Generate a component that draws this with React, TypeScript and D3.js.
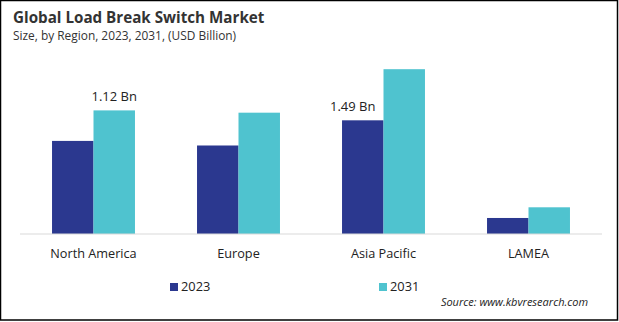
import React from "react";
import * as d3 from "d3";

const categories = ["North America", "Europe", "Asia Pacific", "LAMEA"];
const seriesNames = ["2023", "2031"];
const values2023 = [1.22, 1.16, 1.49, 0.21];
const values2031 = [1.62, 1.59, 2.16, 0.35];
const colors = ["#2B388F", "#4FC3CF"];
const annotations = [
  { cat: "North America", series: 1, text: "1.12 Bn", dx: 0 },
  { cat: "Asia Pacific", series: 0, text: "1.49 Bn", dx: -10 },
];

const W = 619;
const H = 322;
const FONT = "'Open Sans', 'Noto Sans', sans-serif";

export default function App() {
  const x = d3
    .scaleBand<string>()
    .domain(categories)
    .range([21, 601])
    .paddingInner(0.428)
    .paddingOuter(0.214);
  const xs = d3.scaleBand<string>().domain(seriesNames).range([0, x.bandwidth()]);
  const y = d3.scaleLinear().domain([0, 2.5]).range([234, 234 - 76.3 * 2.5]);
  const series = [values2023, values2031];

  return (
    <div style={{ position: "fixed", left: 0, top: 0 }}>
      <svg width={W} height={H} style={{ display: "block", fontFamily: FONT }}>
        <rect x={0} y={0} width={W} height={H} fill="#fff" />
        <rect x={0.5} y={0.5} width={617} height={319.5} fill="none" stroke="#000" strokeWidth={1.5} />
        <text x={13} y={23} fontSize={15.2} fontWeight={700} fill="#333">
          Global Load Break Switch Market
        </text>
        <text x={13} y={40} fontSize={11.9} fill="#333">
          Size, by Region, 2023, 2031, (USD Billion)
        </text>
        {categories.map((c, i) =>
          series.map((vals, s) => (
            <rect
              key={c + s}
              x={(x(c) as number) + (xs(seriesNames[s]) as number)}
              y={y(vals[i])}
              width={xs.bandwidth()}
              height={y(0) - y(vals[i])}
              fill={colors[s]}
            />
          ))
        )}
        <line x1={20} x2={602} y1={234} y2={234} stroke="#d9d9d9" strokeWidth={1} />
        {categories.map((c) => (
          <text
            key={c}
            x={(x(c) as number) + x.bandwidth() / 2}
            y={258}
            fontSize={12.7}
            textAnchor="middle"
            fill="#222"
          >
            {c}
          </text>
        ))}
        {annotations.map((a) => {
          const i = categories.indexOf(a.cat);
          const v = series[a.series][i];
          const cx = (x(a.cat) as number) + (xs(seriesNames[a.series]) as number) + xs.bandwidth() / 2 + a.dx;
          return (
            <text key={a.text} x={cx} y={y(v) - 9.5} fontSize={13} textAnchor="middle" fill="#222">
              {a.text}
            </text>
          );
        })}
        {seriesNames.map((n, s) => {
          const lx = [170, 379][s];
          return (
            <g key={n}>
              <rect x={lx} y={283} width={8} height={8} fill={colors[s]} />
              <text x={lx + 11} y={291} fontSize={12.8} fill="#222">
                {n}
              </text>
            </g>
          );
        })}
        <text x={588} y={306} fontSize={11} fontStyle="italic" textAnchor="end" fill="#222">
          Source: www.kbvresearch.com
        </text>
      </svg>
    </div>
  );
}
